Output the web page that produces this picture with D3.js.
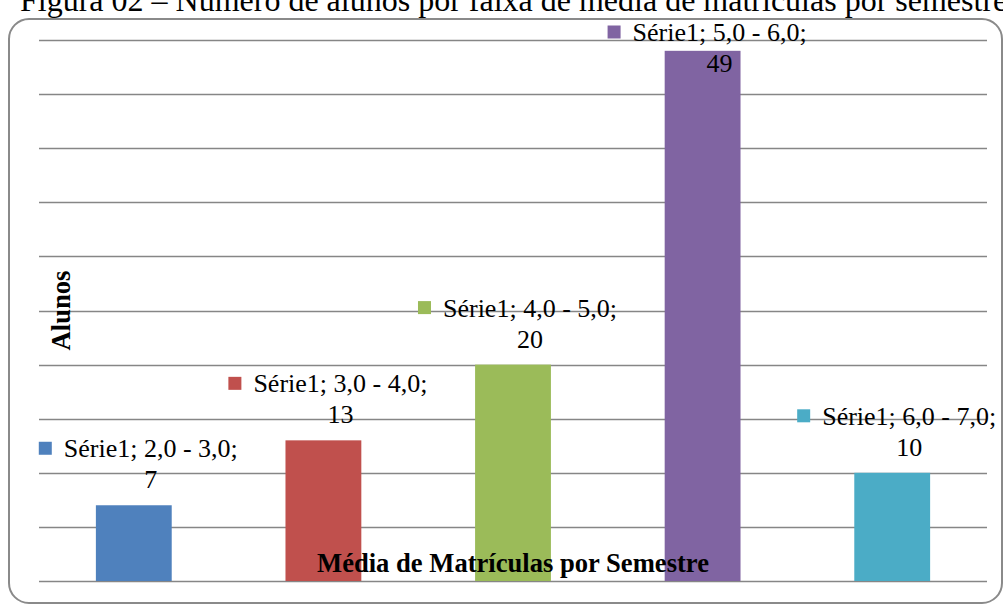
<!DOCTYPE html>
<html lang="pt">
<head>
<meta charset="utf-8">
<title>Figura 02</title>
<script src="https://d3js.org/d3.v7.min.js"></script>
<style>
  body { margin: 0; background: #fff; overflow: hidden; }
  svg { display: block; font-family: "Liberation Serif", "Times New Roman", serif; }
  .grid line { stroke: #868686; stroke-width: 1.6px; }
  .lbl { font-size: 26px; fill: #000; }
  .axis-title { font-size: 26.6px; font-weight: bold; fill: #000; }
</style>
</head>
<body>
<script>
// dados
var faixas = ["2,0 - 3,0", "3,0 - 4,0", "4,0 - 5,0", "5,0 - 6,0", "6,0 - 7,0"];
var alunos = [7, 13, 20, 49, 10];
var cores = ["#4F81BD", "#C0504D", "#9BBB59", "#8064A2", "#4BACC6"];
var serie = "Série1";
var yTicks = [0, 5, 10, 15, 20, 25, 30, 35, 40, 45, 50];
var titulo = "Figura 02 – Número de alunos por faixa de média de matrículas por semestre";
var tituloX = "Média de Matrículas por Semestre";
var tituloY = "Alunos";

var width = 1003, height = 606;
var margin = {top: 40, right: 16, bottom: 25, left: 39};

var svg = d3.select("body").append("svg")
  .attr("width", width)
  .attr("height", height);

var x = d3.scaleBand()
  .domain(faixas)
  .range([margin.left, width - margin.right])
  .paddingInner(0.6)
  .paddingOuter(0.3);

var y = d3.scaleLinear()
  .domain([0, 50])
  .range([height - margin.bottom, margin.top]);

// moldura arredondada
svg.append("rect")
  .attr("x", 9)
  .attr("y", 19)
  .attr("width", 993)
  .attr("height", 584)
  .attr("rx", 20)
  .attr("fill", "none")
  .attr("stroke", "#8a8a8a")
  .attr("stroke-width", 2);

// linhas de grade
svg.append("g")
  .attr("class", "grid")
  .selectAll("line")
  .data(yTicks)
  .enter().append("line")
  .attr("x1", margin.left)
  .attr("x2", width - margin.right)
  .attr("y1", function(d) { return Math.round(y(d)) + 0.5; })
  .attr("y2", function(d) { return Math.round(y(d)) + 0.5; });

// barras
svg.selectAll(".bar")
  .data(alunos)
  .enter().append("rect")
  .attr("class", "bar")
  .attr("x", function(d, i) { return x(faixas[i]); })
  .attr("y", function(d) { return y(d); })
  .attr("width", x.bandwidth())
  .attr("height", function(d) { return y(0) - y(d); })
  .attr("fill", function(d, i) { return cores[i]; });

// titulos dos eixos
svg.append("text")
  .attr("class", "axis-title")
  .attr("x", (margin.left + width - margin.right) / 2)
  .attr("y", 572)
  .attr("text-anchor", "middle")
  .text(tituloX);

svg.append("text")
  .attr("class", "axis-title")
  .attr("transform", "translate(70," + ((margin.top + height - margin.bottom) / 2) + ") rotate(-90)")
  .attr("text-anchor", "middle")
  .text(tituloY);

// rotulos de dados
var lbl = svg.selectAll(".lblg")
  .data(alunos)
  .enter().append("g")
  .attr("class", "lblg");

lbl.each(function(d, i) {
  var g = d3.select(this);
  var cx = x(faixas[i]) + x.bandwidth() / 2 + 17;
  var l2 = y(d) - 17;
  var l1 = l2 - 31;
  if (l1 < margin.top + 1) { l1 = margin.top + 1; l2 = l1 + 31; }
  var t1 = g.append("text")
    .attr("class", "lbl")
    .attr("x", cx)
    .attr("y", l1)
    .attr("text-anchor", "middle")
    .text(serie + "; " + faixas[i] + ";");
  var w = t1.node().getComputedTextLength();
  g.append("rect")
    .attr("x", cx - w / 2 - 12 - 13)
    .attr("y", l1 - 9 - 6.5)
    .attr("width", 13)
    .attr("height", 13)
    .attr("fill", cores[i]);
  g.append("text")
    .attr("class", "lbl")
    .attr("x", cx)
    .attr("y", l2)
    .attr("text-anchor", "middle")
    .text(d);
});

// titulo da figura (cortado no topo, como no original)
svg.append("text")
  .attr("x", 20)
  .attr("y", 11)
  .style("font-size", "32px")
  .text(titulo);
</script>
</body>
</html>
